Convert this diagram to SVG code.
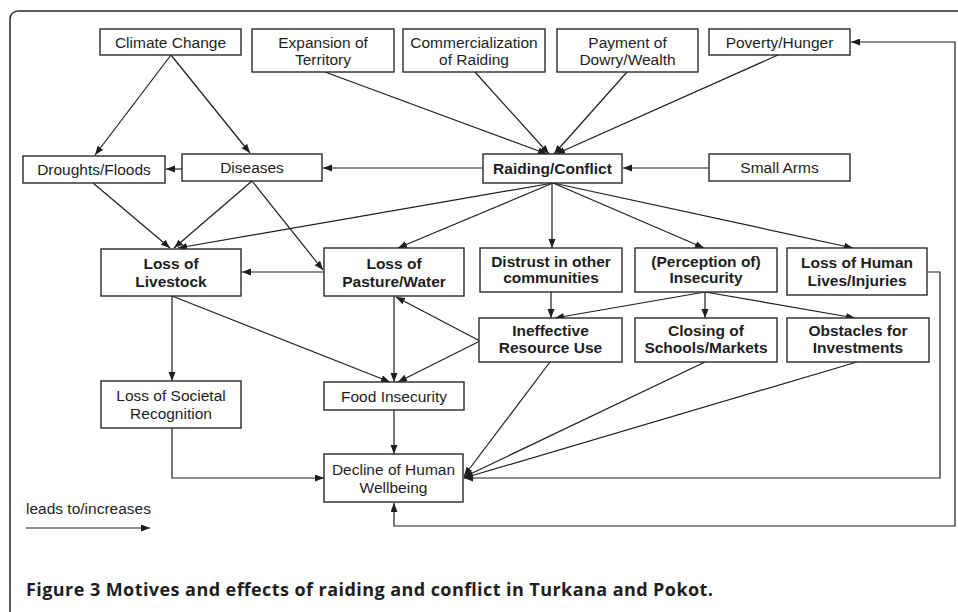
<svg xmlns="http://www.w3.org/2000/svg" width="958" height="612" viewBox="0 0 958 612">
<style>
.box{fill:#fff;stroke:#2a2a2a;stroke-width:1.4}
.t{font-family:"Liberation Sans",Arial,sans-serif;font-size:15.5px;fill:#1e1e1e;text-anchor:middle}
.b{font-weight:bold}
.c{fill:none;stroke:#1e1e1e;stroke-width:1.2}
.cap{font-family:"Open Sans","Noto Sans",sans-serif;font-size:18px;font-weight:bold;fill:#1e1e1e}
</style>
<defs>
<marker id="ah" markerUnits="userSpaceOnUse" markerWidth="10" markerHeight="8" refX="9" refY="3.5" orient="auto">
<path d="M0,0 L9,3.5 L0,7 z" fill="#1e1e1e"/>
</marker>
<marker id="as" markerUnits="userSpaceOnUse" markerWidth="10" markerHeight="8" refX="0" refY="3.5" orient="auto">
<path d="M9,0 L0,3.5 L9,7 z" fill="#1e1e1e"/>
</marker>
</defs>
<rect x="0" y="0" width="958" height="612" fill="#fff"/>
<rect x="10" y="11" width="960" height="620" rx="8" fill="none" stroke="#2a2a2a" stroke-width="1.5"/>

<g id="connectors">
<path class="c" d="M171,55 L95,155" marker-end="url(#ah)"/>
<path class="c" d="M171,55 L250,153" marker-end="url(#ah)"/>
<path class="c" d="M182,169 L166,169" marker-end="url(#ah)"/>
<path class="c" d="M483,168 L323,168" marker-end="url(#ah)"/>
<path class="c" d="M325,72 L547,154" marker-end="url(#ah)"/>
<path class="c" d="M475,72 L549,154" marker-end="url(#ah)"/>
<path class="c" d="M627,72 L554,154" marker-end="url(#ah)"/>
<path class="c" d="M778,55 L556,154" marker-end="url(#ah)"/>
<path class="c" d="M709,168 L623,168" marker-end="url(#ah)"/>
<path class="c" d="M553,183 L178,248" marker-end="url(#ah)"/>
<path class="c" d="M553,183 L398,248" marker-end="url(#ah)"/>
<path class="c" d="M552,183 L552,248" marker-end="url(#ah)"/>
<path class="c" d="M553,183 L704,248" marker-end="url(#ah)"/>
<path class="c" d="M553,183 L853,248" marker-end="url(#ah)"/>
<path class="c" d="M93,183 L170,248" marker-end="url(#ah)"/>
<path class="c" d="M252,181 L174,248" marker-end="url(#ah)"/>
<path class="c" d="M252,181 L323,270" marker-end="url(#ah)"/>
<path class="c" d="M324,272 L242,272" marker-end="url(#ah)"/>
<path class="c" d="M172,296 L172,381" marker-end="url(#ah)"/>
<path class="c" d="M172,296 L390,382" marker-end="url(#ah)"/>
<path class="c" d="M394,296 L394,382" marker-end="url(#ah)"/>
<path class="c" d="M480,341 L396,297" marker-end="url(#ah)"/>
<path class="c" d="M480,341 L398,382" marker-end="url(#ah)"/>
<path class="c" d="M551,292 L551,318" marker-end="url(#ah)"/>
<path class="c" d="M705,292 L555,318" marker-end="url(#ah)"/>
<path class="c" d="M705,292 L705,318" marker-end="url(#ah)"/>
<path class="c" d="M705,292 L855,318" marker-end="url(#ah)"/>
<path class="c" d="M550,362 L464,476" marker-end="url(#ah)"/>
<path class="c" d="M705,362 L464,477" marker-end="url(#ah)"/>
<path class="c" d="M857,362 L464,478" marker-end="url(#ah)"/>
<path class="c" d="M927,272 L940,272 L940,478 L464,478" marker-end="url(#ah)"/>
<path class="c" d="M394,410 L394,454" marker-end="url(#ah)"/>
<path class="c" d="M172,428 L172,478 L324,478" marker-end="url(#ah)"/>
<path class="c" d="M851,42 L955,42 L955,526 L394,526 L394,503" marker-start="url(#as)" marker-end="url(#ah)"/>
<path class="c" d="M26,528 L150,528" marker-end="url(#ah)"/>
</g>

<g id="climate-change"><rect class="box" x="100" y="29" width="141" height="26"/><text class="t" x="170.5" y="47.5">Climate Change</text></g>
<g id="expansion"><rect class="box" x="252" y="29" width="142" height="43"/><text class="t" x="323" y="47.5">Expansion of</text><text class="t" x="323" y="64.5">Territory</text></g>
<g id="commercialization"><rect class="box" x="403" y="29" width="142" height="43"/><text class="t" x="474" y="47.5">Commercialization</text><text class="t" x="474" y="64.5">of Raiding</text></g>
<g id="payment"><rect class="box" x="557" y="29" width="141" height="43"/><text class="t" x="627.5" y="47.5">Payment of</text><text class="t" x="627.5" y="64.5">Dowry/Wealth</text></g>
<g id="poverty"><rect class="box" x="709" y="29" width="141" height="26"/><text class="t" x="779.5" y="47.5">Poverty/Hunger</text></g>
<g id="droughts"><rect class="box" x="23" y="156" width="142" height="27"/><text class="t" x="94" y="174.5">Droughts/Floods</text></g>
<g id="diseases"><rect class="box" x="182" y="154" width="140" height="27"/><text class="t" x="252" y="172.5">Diseases</text></g>
<g id="raiding"><rect class="box" x="483" y="154" width="139" height="29"/><text class="t b" x="552.5" y="174">Raiding/Conflict</text></g>
<g id="small-arms"><rect class="box" x="709" y="154" width="141" height="27"/><text class="t" x="779.5" y="172.5">Small Arms</text></g>
<g id="loss-livestock"><rect class="box" x="101" y="249" width="140" height="47"/><text class="t b" x="171" y="268.5">Loss of</text><text class="t b" x="171" y="286.5">Livestock</text></g>
<g id="loss-pasture"><rect class="box" x="324" y="248" width="140" height="48"/><text class="t b" x="394" y="268.5">Loss of</text><text class="t b" x="394" y="286.5">Pasture/Water</text></g>
<g id="distrust"><rect class="box" x="480" y="248" width="142" height="44"/><text class="t b" x="551" y="266.5">Distrust in other</text><text class="t b" x="551" y="283">communities</text></g>
<g id="insecurity"><rect class="box" x="635" y="248" width="142" height="44"/><text class="t b" x="706" y="266.5">(Perception of)</text><text class="t b" x="706" y="283">Insecurity</text></g>
<g id="loss-lives"><rect class="box" x="787" y="248" width="140" height="47"/><text class="t b" x="857" y="268">Loss of Human</text><text class="t b" x="857" y="285.5">Lives/Injuries</text></g>
<g id="ineffective"><rect class="box" x="479" y="318" width="143" height="44"/><text class="t b" x="550.5" y="335.5">Ineffective</text><text class="t b" x="550.5" y="352.5">Resource Use</text></g>
<g id="closing"><rect class="box" x="635" y="318" width="142" height="44"/><text class="t b" x="706" y="335.5">Closing of</text><text class="t b" x="706" y="352.5">Schools/Markets</text></g>
<g id="obstacles"><rect class="box" x="787" y="318" width="142" height="44"/><text class="t b" x="858" y="335.5">Obstacles for</text><text class="t b" x="858" y="352.5">Investments</text></g>
<g id="societal"><rect class="box" x="101" y="381" width="140" height="47"/><text class="t" x="171" y="400.5">Loss of Societal</text><text class="t" x="171" y="418.5">Recognition</text></g>
<g id="food"><rect class="box" x="324" y="382" width="140" height="28"/><text class="t" x="394" y="401.5">Food Insecurity</text></g>
<g id="decline"><rect class="box" x="324" y="454" width="139" height="48"/><text class="t" x="393.5" y="474.5">Decline of Human</text><text class="t" x="393.5" y="492.5">Wellbeing</text></g>

<text class="t" x="26" y="514" style="text-anchor:start">leads to/increases</text>
<text class="cap" x="26" y="596" textLength="687" lengthAdjust="spacing">Figure 3 Motives and effects of raiding and conflict in Turkana and Pokot.</text>
</svg>
